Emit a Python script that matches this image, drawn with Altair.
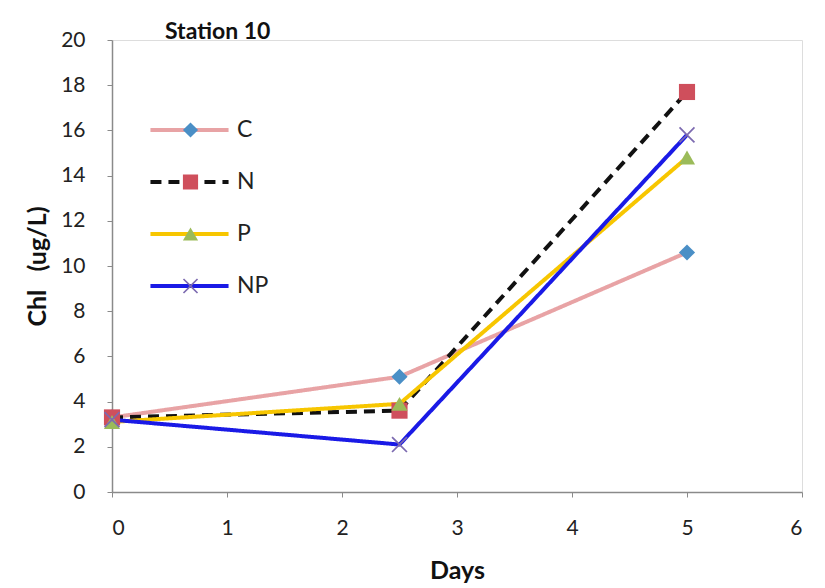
import altair as alt
import pandas as pd

days = [0, 2.5, 5]
series_names = ["C", "N", "P", "NP"]
C = [3.3, 5.1, 10.6]
N = [3.3, 3.6, 17.7]
P = [3.1, 3.9, 14.8]
NP = [3.2, 2.1, 15.8]

line_colors = ["#E8A3A5", "#111111", "#F7C600", "#1A1AE6"]
marker_colors = ["#4A8FC6", "#CF4F5C", "#9BBB59", "#7C6AB0"]
dashes = [[1, 0], [11, 7], [1, 0], [1, 0]]
X_SHAPE = ("M-1,-0.85L-0.85,-1L0,-0.15L0.85,-1L1,-0.85L0.15,0L1,0.85L0.85,1"
           "L0,0.15L-0.85,1L-1,0.85L-0.15,0Z")
shapes = ["diamond", "square", "triangle-up", X_SHAPE]

rows = []
for name, vals in zip(series_names, [C, N, P, NP]):
    for d, v in zip(days, vals):
        rows.append({"Days": d, "Chl": v, "Series": name})
df = pd.DataFrame(rows)

FONT = "Lato"
axis_style = dict(grid=False, domainColor="#8a8a8a", tickColor="#8a8a8a", tickSize=5,
                  domainWidth=1.5, labelFont=FONT, labelFontSize=21, labelColor="#222",
                  titleFont=FONT, titleFontSize=25, titleFontWeight="bold", titleColor="#111")

x = alt.X("Days:Q", scale=alt.Scale(domain=[0, 6], nice=False),
          axis=alt.Axis(title="Days", values=[0, 1, 2, 3, 4, 5, 6],
                        labelPadding=20, titlePadding=20, **axis_style))
y = alt.Y("Chl:Q", scale=alt.Scale(domain=[0, 20], nice=False),
          axis=alt.Axis(title="Chl\u00a0\u00a0\u00a0(ug/L)", values=list(range(0, 21, 2)),
                        labelPadding=22, titlePadding=10, **axis_style))

LX, LY = 36, 64
line_leg = dict(title=None, orient="none", legendX=LX, legendY=LY,
                symbolType="stroke", symbolSize=6100, symbolStrokeWidth=4,
                labelFontSize=23, labelFont=FONT, labelColor="#222", clipHeight=52,
                rowPadding=0, labelOffset=6)
mark_leg = dict(title=None, orient="none", legendX=LX + 39 - 8, legendY=LY,
                symbolSize=230, symbolStrokeWidth=0, labelOpacity=0,
                labelFontSize=23, labelFont=FONT, clipHeight=52, rowPadding=0)

lines = alt.Chart(df).mark_line(strokeWidth=4).encode(
    x=x, y=y,
    color=alt.Color("Series:N", scale=alt.Scale(domain=series_names, range=line_colors),
                    legend=alt.Legend(**line_leg)),
    strokeDash=alt.StrokeDash("Series:N", scale=alt.Scale(domain=series_names, range=dashes),
                              legend=alt.Legend(**line_leg)),
)

points = alt.Chart(df).mark_point(filled=True, size=260, opacity=1).encode(
    x=x, y=y,
    fill=alt.Fill("Series:N", scale=alt.Scale(domain=series_names, range=marker_colors),
                  legend=alt.Legend(**mark_leg)),
    shape=alt.Shape("Series:N", scale=alt.Scale(domain=series_names, range=shapes),
                    legend=alt.Legend(**mark_leg)),
)

chart = alt.layer(lines, points).resolve_scale(
    fill="independent", shape="independent"
).resolve_legend(fill="independent", shape="independent").properties(
    width=690, height=452,
    autosize=alt.AutoSizeParams(type="none"),
    padding={"left": 112, "top": 40, "right": 23, "bottom": 96},
    title=alt.TitleParams("Station 10", anchor="start", frame="group", dx=53, dy=17,
                          offset=2, fontSize=23, font=FONT, fontWeight="bold", color="#111"),
).configure_view(stroke=None).configure(background="white")

chart.save("out.html", embed_options={"renderer": "svg", "actions": False})
